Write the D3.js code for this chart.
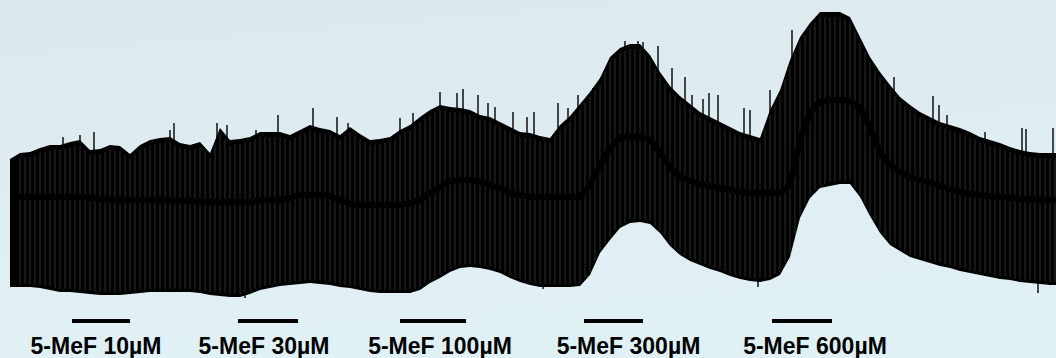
<!DOCTYPE html>
<html>
<head>
<meta charset="utf-8">
<script src="https://cdn.jsdelivr.net/npm/d3@7"></script>
<style>
    html, body { margin: 0; padding: 0; overflow: hidden; }
    svg { display: block; }
</style>
</head>
<body>
<svg id="chart"></svg>
<script>
// recording time (arbitrary units) of each envelope sample
const sampleTime = [10, 20, 30, 40, 50, 60, 70, 80, 90, 100,
    110, 120, 130, 140, 150, 160, 170, 180, 190, 200,
    210, 220, 230, 240, 250, 260, 270, 280, 290, 300,
    310, 320, 330, 340, 350, 360, 370, 380, 390, 400,
    410, 420, 430, 440, 450, 460, 470, 480, 490, 500,
    510, 520, 530, 540, 550, 560, 570, 580, 590, 600,
    610, 620, 630, 640, 650, 660, 670, 680, 690, 700,
    710, 720, 730, 740, 750, 760, 770, 780, 790, 800,
    810, 820, 830, 840, 850, 860, 870, 880, 890, 900,
    910, 920, 930, 940, 950, 960, 970, 980, 990, 1000,
    1010, 1020, 1030, 1040, 1050, 1060];

// systolic peak envelope
const peakTension = [191, 197, 198, 202, 205, 205, 208, 210, 200, 201,
    205, 204, 196, 205, 210, 212, 213, 207, 205, 208,
    197, 222, 210, 211, 213, 218, 218, 218, 215, 220,
    225, 222, 220, 215, 223, 216, 210, 211, 213, 220,
    225, 233, 240, 245, 243, 242, 240, 235, 233, 228,
    223, 218, 217, 214, 212, 225, 234, 246, 258, 272,
    293, 302, 306, 306, 295, 278, 264, 254, 246, 238,
    233, 228, 223, 218, 215, 212, 240, 260, 290, 313,
    327, 338, 338, 338, 333, 313, 293, 278, 265, 253,
    245, 238, 233, 228, 225, 222, 218, 213, 210, 207,
    203, 200, 198, 197, 197, 197];

// diastolic (resting) envelope
const restTension = [63, 63, 63, 62, 60, 58, 58, 57, 56, 55,
    55, 55, 56, 57, 58, 58, 58, 58, 58, 57,
    55, 54, 53, 53, 56, 60, 62, 64, 65, 66,
    67, 66, 65, 63, 62, 60, 58, 57, 57, 57,
    57, 60, 67, 72, 78, 82, 83, 82, 80, 77,
    72, 68, 65, 63, 63, 63, 63, 64, 75, 97,
    110, 122, 127, 128, 126, 117, 104, 95, 89, 85,
    81, 78, 74, 71, 69, 68, 70, 75, 93, 132,
    152, 162, 164, 166, 166, 153, 134, 117, 105, 99,
    93, 90, 87, 84, 82, 79, 77, 75, 73, 71,
    70, 68, 67, 66, 65, 65];

// mean tension
const meanTension = [153, 153, 153, 153, 153, 153, 153, 153, 152, 151,
    150, 150, 150, 150, 150, 150, 150, 149, 149, 148,
    148, 148, 148, 148, 148, 150, 150, 150, 152, 155,
    155, 155, 154, 150, 146, 145, 145, 145, 145, 145,
    147, 150, 157, 163, 169, 170, 170, 168, 165, 162,
    157, 155, 153, 153, 153, 153, 153, 153, 165, 185,
    202, 212, 213, 213, 210, 198, 183, 173, 169, 166,
    164, 162, 160, 158, 157, 157, 157, 157, 165, 210,
    238, 248, 250, 250, 249, 242, 223, 197, 185, 178,
    173, 170, 167, 164, 161, 158, 156, 155, 154, 153,
    152, 151, 151, 150, 150, 150];

// single beats standing out above the envelope
const spikeTime = [63, 80, 94, 170, 174, 217, 227, 256, 278, 313, 337, 348, 400, 413, 440, 457, 463, 478, 488, 495,
    513, 527, 534, 558, 568, 578, 593, 600, 625, 638, 643, 658, 672, 685, 692, 703, 709, 718, 744, 750,
    770, 789, 792, 894, 933, 939, 947, 985, 1022, 1026, 1053];
const spikePeak = [213, 215, 218, 220, 227, 227, 225, 220, 235, 242, 233, 227, 232, 237, 258, 257, 261, 255, 247, 243,
    238, 233, 238, 247, 242, 255, 262, 265, 309, 309, 308, 304, 282, 273, 255, 251, 257, 255, 242, 240,
    260, 282, 320, 273, 254, 245, 235, 218, 222, 221, 222];

// single beats dipping below the resting envelope
const dipTime = [245, 543, 758, 1038];
const dipLow = [52, 61, 63, 57];

// drug applications
const doseLabels = ['5-MeF 10\u00b5M', '5-MeF 30\u00b5M', '5-MeF 100\u00b5M', '5-MeF 300\u00b5M', '5-MeF 600\u00b5M'];
const doseStart = [72, 238, 400, 584, 772];
const doseEnd = [130, 298, 466, 643, 832];

// layout
const width = 1056;
const height = 358;
const labelShift = [-5, -4, 7, 15, 13];

let svg = d3.select('#chart')
    .attr('width', width)
    .attr('height', height);

// background
let defs = svg.append('defs');
let grad = defs.append('linearGradient')
    .attr('id', 'bg')
    .attr('x1', '0').attr('y1', '0')
    .attr('x2', '0.25').attr('y2', '1');
grad.append('stop').attr('offset', '0%').attr('stop-color', '#dce8ec');
grad.append('stop').attr('offset', '100%').attr('stop-color', '#e0f1f6');
svg.append('rect')
    .attr('width', width)
    .attr('height', height)
    .attr('fill', 'url(#bg)');

let xScale = d3.scaleLinear().domain([0, 1056]).range([0, width]);
let yScale = d3.scaleLinear().domain([0, 350]).range([350, 0]);

let rows = sampleTime.map((t, i) => ({ t: t, hi: peakTension[i], lo: restTension[i], mid: meanTension[i] }));

// piecewise lookups along the envelopes
let hiAt = d3.scaleLinear().domain(sampleTime).range(peakTension);
let loAt = d3.scaleLinear().domain(sampleTime).range(restTension);

let trace = svg.append('g').attr('class', 'trace');

// filled band between rest and peak
let band = d3.area()
    .x(d => xScale(d.t))
    .y0(d => yScale(d.lo))
    .y1(d => yScale(d.hi));

trace.append('path')
    .datum(rows)
    .attr('d', band)
    .attr('fill', '#000');

// thin light gaps between beats (at samples and halfway between them)
let gapTimes = [];
rows.slice(1, -1).forEach(d => { gapTimes.push(d.t); gapTimes.push(d.t + 5); });

trace.selectAll('.gap')
    .data(gapTimes)
    .enter()
    .append('line')
    .attr('class', 'gap')
    .attr('x1', t => xScale(t))
    .attr('x2', t => xScale(t))
    .attr('y1', t => yScale(hiAt(t)) + 5)
    .attr('y2', t => yScale(loAt(t)) - 3)
    .attr('stroke', '#a9b6bb')
    .attr('stroke-width', 0.6)
    .attr('opacity', 0.45);

// mean tension line
trace.append('path')
    .datum(rows)
    .attr('d', d3.line().x(d => xScale(d.t)).y(d => yScale(d.mid)))
    .attr('fill', 'none')
    .attr('stroke', '#000')
    .attr('stroke-width', 6);

// isolated tall beats
trace.selectAll('.spike')
    .data(spikeTime.map((t, i) => ({ t: t, v: spikePeak[i] })))
    .enter()
    .append('line')
    .attr('class', 'spike')
    .attr('x1', d => xScale(d.t))
    .attr('x2', d => xScale(d.t))
    .attr('y1', d => yScale(d.v))
    .attr('y2', d => yScale(hiAt(d.t)) + 3)
    .attr('stroke', '#000')
    .attr('stroke-width', 1.4);

trace.selectAll('.dip')
    .data(dipTime.map((t, i) => ({ t: t, v: dipLow[i] })))
    .enter()
    .append('line')
    .attr('class', 'dip')
    .attr('x1', d => xScale(d.t))
    .attr('x2', d => xScale(d.t))
    .attr('y1', d => yScale(d.v))
    .attr('y2', d => yScale(loAt(d.t)) - 3)
    .attr('stroke', '#000')
    .attr('stroke-width', 1.4);

// application bars and labels
let doses = doseLabels.map((l, i) => ({ label: l, start: doseStart[i], end: doseEnd[i], shift: labelShift[i] }));

let marks = svg.append('g').attr('class', 'doses');

marks.selectAll('.bar')
    .data(doses)
    .enter()
    .append('line')
    .attr('class', 'bar')
    .attr('x1', d => xScale(d.start))
    .attr('x2', d => xScale(d.end))
    .attr('y1', 321)
    .attr('y2', 321)
    .attr('stroke', '#000')
    .attr('stroke-width', 4);

marks.selectAll('.label')
    .data(doses)
    .enter()
    .append('text')
    .attr('class', 'label')
    .attr('x', d => xScale((d.start + d.end) / 2) + d.shift)
    .attr('y', 354)
    .attr('text-anchor', 'middle')
    .style('font-family', 'Arial, "Liberation Sans", sans-serif')
    .style('font-weight', 'bold')
    .style('font-size', '23px')
    .style('fill', '#000')
    .text(d => d.label);
</script>
</body>
</html>
